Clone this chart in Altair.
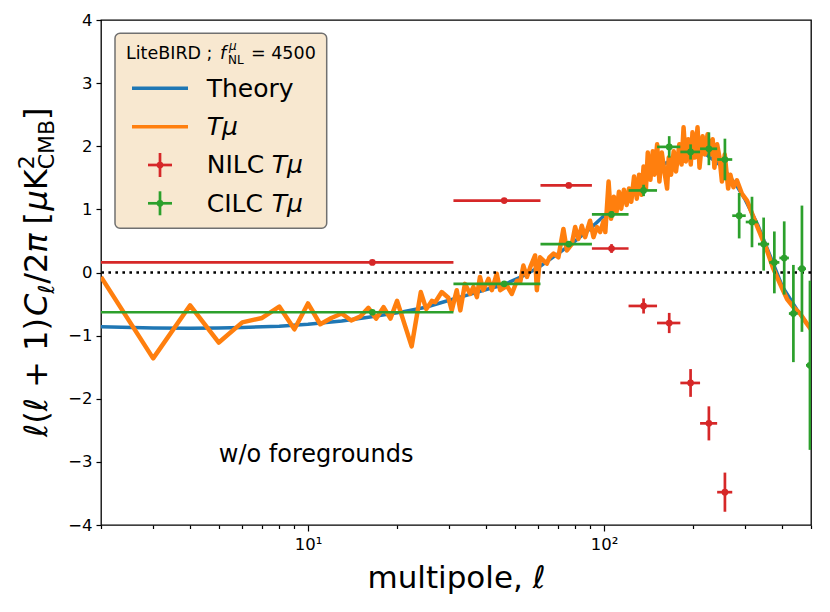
import altair as alt
import pandas as pd

FONT = "DejaVu Sans"
BLUE, ORANGE, GREEN, RED = "#1f77b4", "#ff7f0e", "#2ca02c", "#d62728"

# ---------------- data ----------------
theory_ell = [2, 3, 4, 5, 6, 8, 10, 13, 16, 20, 25, 30, 35, 40, 46, 53, 60, 70, 80, 90,
              100, 120, 140, 160, 180, 200, 220, 250, 280, 300, 330, 360, 400, 450, 500]
theory_val = [-0.86, -0.88, -0.885, -0.88, -0.87, -0.85, -0.82, -0.77, -0.71, -0.64, -0.55,
              -0.44, -0.35, -0.27, -0.19, -0.06, 0.08, 0.30, 0.50, 0.70, 0.90, 1.22, 1.50,
              1.72, 1.86, 1.92, 1.88, 1.68, 1.38, 1.15, 0.76, 0.32, -0.22, -0.60, -0.90]

tmu_ell = [2, 3, 4, 5, 6, 7, 8, 9, 10, 11, 12, 13, 14, 15, 16, 17, 18, 19, 20, 22.4, 24.05,
           25.1, 26.2, 26.9, 28.3, 29.8, 30.6, 31.8, 32.7, 33.9, 35.3, 36.2, 37.2, 38.1, 39.1,
           40.7, 41.8, 43.4, 44.6, 47.0, 48.8, 50.8, 52.1, 53.4, 54.9, 56.3, 58.5, 59.3, 60.8,
           64.1, 65.4, 67.5, 70.1, 72.9, 74.9, 77.8, 79.9, 81.9, 84.1, 86.3, 89.7, 92.1, 94.6,
           97.0, 99.7, 101.0, 103.6, 105.6, 107.9, 110.2, 112.3, 114.3, 116.7, 119.2, 121.4,
           123.6, 126.3, 129.0, 131.3, 133.8, 136.0, 138.5, 140.5, 143.4, 146.1, 148.0, 151.1,
           153.8, 156.7, 159.9, 163.3, 165.4, 168.4, 171.9, 175.0, 179.6, 182.7, 185.6, 188.9,
           192.4, 196.3, 198.9, 202.6, 206.9, 210.1, 215.2, 219.1, 223.7, 227.9, 232.8, 235.9,
           241.0, 245.5, 250.1, 255.6, 262.5, 267.0, 273.6, 281.0, 292.0, 304.0, 320.0, 337.0,
           355.0, 373.0, 393.0, 415.0, 436.0, 459.0, 484.0, 500.0]
tmu_val = [-0.07, -1.36, -0.52, -1.11, -0.79, -0.72, -0.54, -0.90, -0.49, -0.82, -0.72, -0.65,
           -0.76, -0.70, -0.56, -0.73, -0.55, -0.73, -0.45, -1.17, -0.31, -0.58, -0.45, -0.47,
           -0.31, -0.40, -0.60, -0.28, -0.60, -0.18, -0.34, -0.23, -0.39, -0.07, -0.28, -0.10,
           -0.28, -0.02, -0.28, -0.21, -0.34, -0.13, -0.15, 0.11, -0.07, 0.08, 0.27, -0.28, 0.24,
           0.14, 0.24, 0.30, 0.24, 0.69, 0.35, 0.45, 0.72, 0.53, 0.74, 0.56, 0.82, 0.56, 0.72,
           0.64, 0.82, 0.64, 1.44, 0.85, 1.20, 0.96, 1.28, 1.01, 1.31, 1.07, 1.33, 1.12, 1.52,
           1.17, 1.55, 1.23, 1.68, 1.33, 1.90, 1.47, 1.92, 1.55, 2.03, 1.44, 1.90, 1.60, 1.33,
           1.82, 1.55, 1.92, 1.60, 2.03, 1.71, 2.30, 1.76, 2.11, 1.71, 2.22, 1.82, 2.30, 1.66,
           2.16, 1.87, 2.19, 1.87, 2.11, 1.66, 2.03, 1.82, 1.44, 1.87, 1.33, 1.55, 1.35, 1.46,
           1.25, 1.14, 0.87, 0.61, 0.35, 0.06, -0.18, -0.42, -0.55, -0.65, -0.81, -0.90]

nilc_ell = [16.5, 46, 76, 106, 136, 166, 196, 226, 256]
nilc_lo = [2, 31, 61, 91, 121, 151, 181, 211, 241]
nilc_hi = [31, 61, 91, 121, 151, 181, 211, 241, 271]
nilc_val = [0.16, 1.14, 1.38, 0.38, -0.53, -0.80, -1.75, -2.39, -3.48]
nilc_err = [0.01, 0.02, 0.03, 0.07, 0.12, 0.16, 0.22, 0.27, 0.31]

cilc_ell = [16.5, 46, 76, 106, 136, 166, 196, 226, 256, 286, 316, 346, 376, 406, 436, 466, 496]
cilc_lo = [2, 31, 61, 91, 121, 151, 181, 211, 241, 271, 301, 331, 361, 391, 421, 451, 481]
cilc_hi = [31, 61, 91, 121, 151, 181, 211, 241, 271, 301, 331, 361, 391, 421, 451, 481, 511]
cilc_val = [-0.63, -0.18, 0.45, 0.92, 1.30, 1.99, 1.91, 1.96, 1.79, 0.90, 0.80, 0.45, 0.16,
            0.23, -0.65, 0.06, -1.47]
cilc_err = [0.01, 0.02, 0.03, 0.05, 0.09, 0.17, 0.12, 0.26, 0.33, 0.36, 0.40, 0.42, 0.49,
            0.58, 0.77, 1.00, 1.34]

x_ticks = [2, 3, 4, 5, 6, 7, 8, 9, 10, 20, 30, 40, 50, 60, 70, 80, 90, 100, 200, 300, 400, 500]
y_ticks = [-4, -3, -2, -1, 0, 1, 2, 3, 4]

# ---------------- scales / axes ----------------
xs = alt.Scale(type="log", domain=[2, 500], nice=False)
ys = alt.Scale(domain=[-4, 4], nice=False, zero=False)

xaxis = alt.Axis(
    values=x_ticks,
    labelExpr="datum.value == 10 ? '10¹' : (datum.value == 100 ? '10²' : '')",
    tickSize={"condition": {"test": "datum.value == 10 || datum.value == 100", "value": 6}, "value": 3.5},
    labelOverlap=False, labelFlush=False, labelPadding=5, grid=False, domain=False,
    title="multipole, ℓ", titleFontSize=31, titleFont=FONT, titleFontWeight="normal",
    titleColor="black", titlePadding=11,
)
yaxis = alt.Axis(values=y_ticks, tickSize=5, labelPadding=4, title=None, format="d",
                 grid=False, domain=False)

one = pd.DataFrame({"k": [0]})


def txt(s, x, y, size, style="normal", angle=0):
    return alt.Chart(one).mark_text(
        text=s, font=FONT, fontSize=size, fontStyle=style, angle=angle,
        align="left", baseline="alphabetic", color="black",
    ).encode(x=alt.value(x), y=alt.value(y))


theory_df = pd.DataFrame({"ell": theory_ell, "val": theory_val})
tmu_df = pd.DataFrame({"ell": tmu_ell, "val": tmu_val})
nilc_df = pd.DataFrame({"ell": nilc_ell, "lo": nilc_lo, "hi": nilc_hi, "val": nilc_val, "err": nilc_err})
cilc_df = pd.DataFrame({"ell": cilc_ell, "lo": cilc_lo, "hi": cilc_hi, "val": cilc_val, "err": cilc_err})

theory = alt.Chart(theory_df).mark_line(color=BLUE, strokeWidth=3.5, clip=True).encode(
    x=alt.X("ell:Q", scale=xs, axis=xaxis), y=alt.Y("val:Q", scale=ys, axis=yaxis))
tmu = alt.Chart(tmu_df).mark_line(color=ORANGE, strokeWidth=4.5, strokeJoin="round", clip=True).encode(
    x=alt.X("ell:Q", scale=xs, axis=xaxis), y=alt.Y("val:Q", scale=ys, axis=yaxis))
zero = alt.Chart(pd.DataFrame({"z": [0]})).mark_rule(
    color="black", strokeDash=[2.6, 4.4], strokeWidth=2.6).encode(
    y=alt.Y("z:Q", scale=ys, axis=yaxis))


def errbars(df, color):
    base = alt.Chart(df).transform_calculate(ymin="datum.val - datum.err", ymax="datum.val + datum.err")
    h = base.mark_rule(color=color, strokeWidth=2.7, clip=True).encode(
        x=alt.X("lo:Q", scale=xs, axis=xaxis), x2="hi:Q", y=alt.Y("val:Q", scale=ys, axis=yaxis))
    v = base.mark_rule(color=color, strokeWidth=2.7, clip=True).encode(
        x=alt.X("ell:Q", scale=xs, axis=xaxis), y=alt.Y("ymin:Q", scale=ys, axis=yaxis), y2="ymax:Q")
    p = base.mark_circle(color=color, size=45, opacity=1, clip=True).encode(
        x=alt.X("ell:Q", scale=xs, axis=xaxis), y=alt.Y("val:Q", scale=ys, axis=yaxis))
    return [h, v, p]


annot = alt.Chart(pd.DataFrame({"ell": [5], "val": [-3.0]})).mark_text(
    text="w/o foregrounds", font=FONT, fontSize=24, align="left", baseline="alphabetic", color="black"
).encode(x=alt.X("ell:Q", scale=xs, axis=xaxis), y=alt.Y("val:Q", scale=ys, axis=yaxis))

# ---------------- legend (drawn by hand) ----------------
legend = [
    alt.Chart(one).mark_rect(fill="#f8e8d0", stroke="#707070", strokeWidth=1.5, cornerRadius=5).encode(
        x=alt.value(14), x2=alt.value(225.7), y=alt.value(13.3), y2=alt.value(208.3)),
    txt("LiteBIRD ;", 25, 39.3, 17.5),
    txt("f", 119, 39.3, 17.5, "italic"),
    txt("μ", 128, 30, 12, "italic"),
    txt("NL", 127, 44, 12),
    txt("= 4500", 150, 39.3, 17.5),
    alt.Chart(one).mark_rule(color=BLUE, strokeWidth=3.5).encode(
        x=alt.value(31), x2=alt.value(87), y=alt.value(68.3)),
    alt.Chart(one).mark_rule(color=ORANGE, strokeWidth=3.5).encode(
        x=alt.value(31), x2=alt.value(87), y=alt.value(106.7)),
    txt("Theory", 105.7, 76.7, 25),
    txt("Tμ", 105.7, 115, 25, "italic"),
    txt("NILC", 105.7, 153.3, 25),
    txt("Tμ", 170.7, 153.3, 25, "italic"),
    txt("CILC", 105.7, 191.7, 25),
    txt("Tμ", 170.7, 191.7, 25, "italic"),
]
for c, yy in ((RED, 145), (GREEN, 183.3)):
    legend += [
        alt.Chart(one).mark_rule(color=c, strokeWidth=2.7).encode(
            x=alt.value(47), x2=alt.value(71), y=alt.value(yy)),
        alt.Chart(one).mark_rule(color=c, strokeWidth=2.7).encode(
            x=alt.value(59), y=alt.value(yy - 12), y2=alt.value(yy + 12)),
        alt.Chart(one).mark_circle(color=c, size=45, opacity=1).encode(
            x=alt.value(59), y=alt.value(yy)),
    ]

# ---------------- y-axis title (rotated pieces) ----------------
YB = -54
ytitle = [
    txt("ℓ(ℓ + 1)", YB, 417, 32, angle=270),
    txt("C", YB, 296, 32, "italic", angle=270),
    txt("ℓ", YB + 7, 273.7, 22, angle=270),
    txt("/2", YB, 263.8, 32, angle=270),
    txt("π", YB, 232.7, 32, "italic", angle=270),
    txt("[", YB, 204.5, 32, angle=270),
    txt("μ", YB, 190.5, 32, "italic", angle=270),
    txt("K", YB, 170.3, 32, angle=270),
    txt("2", YB - 13, 149.3, 22, angle=270),
    txt("CMB", YB + 7, 149.3, 22, angle=270),
    txt("]", YB, 99.9, 32, angle=270),
]

layers = [theory, tmu, zero] + errbars(nilc_df, RED) + errbars(cilc_df, GREEN) + [annot] + legend + ytitle

chart = alt.layer(*layers).properties(
    width=710, height=505,
    background="white",
    autosize=alt.AutoSizeParams(type="none"),
    padding={"left": 93, "top": 12, "right": 5, "bottom": 75},
).configure_view(stroke="black", strokeWidth=1.3).configure_axis(
    grid=False, domain=False, tickColor="black", tickWidth=1.2,
    labelFont=FONT, labelFontSize=16.5, labelColor="black",
)

chart.save("out.html", embed_options={"renderer": "svg", "actions": False})
